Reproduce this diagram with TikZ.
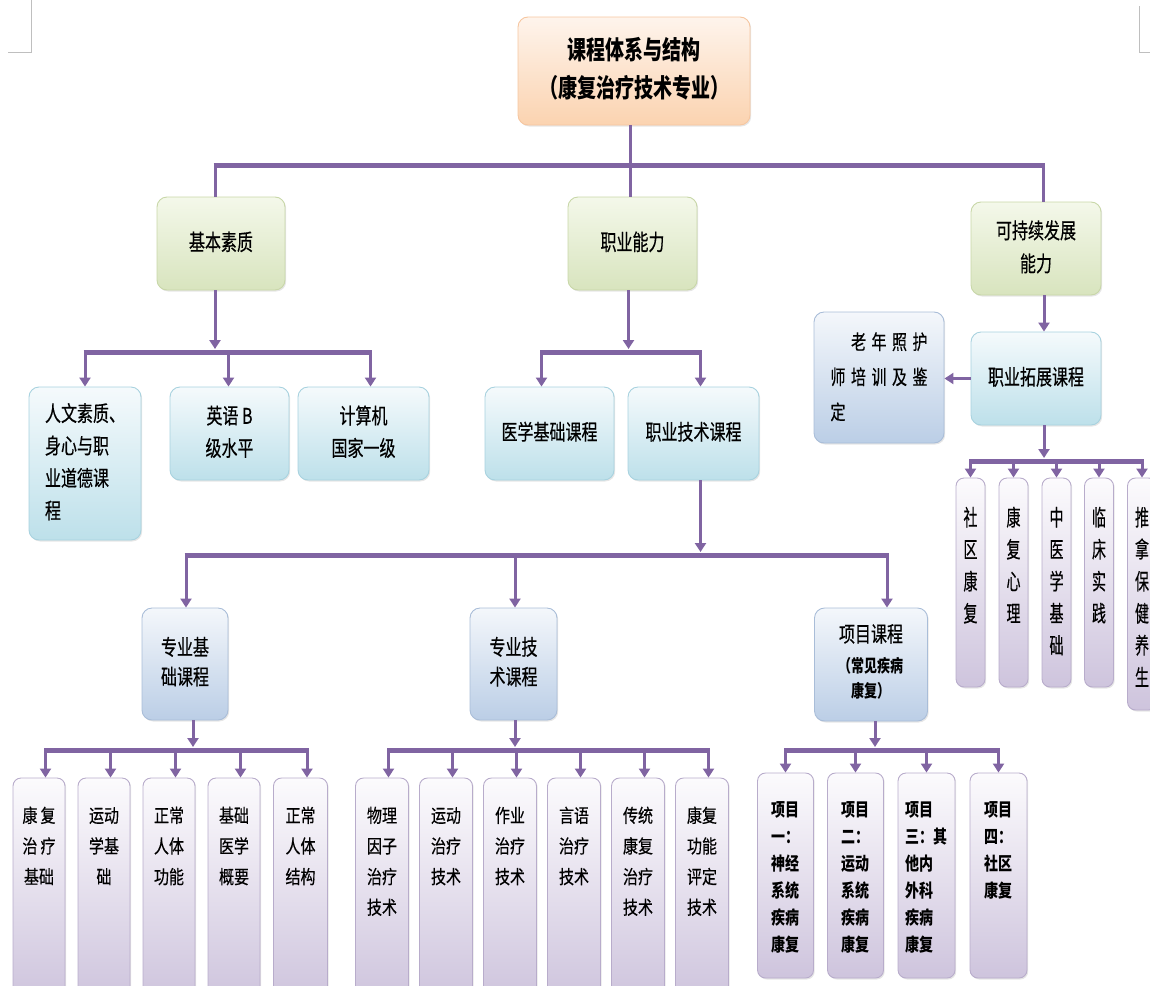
\documentclass[tikz,border=0pt]{standalone}
\usepackage{fontspec}
\usepackage{graphicx}
\setmainfont{Noto Sans CJK SC}[UprightFeatures={FakeBold=0.5}]
\usetikzlibrary{arrows.meta,shadows,calc}
\definecolor{pur}{HTML}{8064A2}
\definecolor{ttlT}{HTML}{FEF4EC}\definecolor{ttlB}{HTML}{FBD3B0}\definecolor{ttlD}{HTML}{F6C6A0}
\definecolor{grnT}{HTML}{F4F8EA}\definecolor{grnB}{HTML}{D8E4BE}\definecolor{grnD}{HTML}{C8D7A8}
\definecolor{cyaT}{HTML}{F5FAFC}\definecolor{cyaB}{HTML}{BDE0EA}\definecolor{cyaD}{HTML}{A8D2DF}
\definecolor{bluT}{HTML}{F4F7FB}\definecolor{bluB}{HTML}{BBCEE6}\definecolor{bluD}{HTML}{A9BDD8}
\definecolor{lavT}{HTML}{FCFBFD}\definecolor{lavB}{HTML}{CEC4DD}\definecolor{lavD}{HTML}{B8ACCB}
\newcommand\mytc[2]{\scalebox{1}[#1]{\begin{tabular}{@{}c@{}}#2\end{tabular}}}
\newcommand\mytl[2]{\scalebox{1}[#1]{\begin{tabular}{@{}l@{}}#2\end{tabular}}}
\newcommand\mygap{\hspace{5.5pt}}
% arrow from a bar (coordinate #3) down to node #1, shifted by #2
\newcommand\darr[3]{\draw[arr] ($(#1.north |- #3)+(#2,0)$) -- ($(#1.north)+(#2,0)$);}
% arrow from node #1 (shifted by #2) down onto bar tip coordinate #3
\newcommand\pout[3]{\draw[arr] ($(#1.south)+(#2,0)$) -- ($(#1.south |- #3)+(#2,0)$);}
% bar at #1 from node #2 (+#3) to node #4 (+#5)
\newcommand\mybar[5]{\draw[barline] ($(#2.north |- #1)+(#3,0)$) -- ($(#4.north |- #1)+(#5,0)$);}
\tikzset{
  conn/.style={draw=pur, line width=3pt},
  arr/.style={draw=pur, line width=3pt, -{Triangle[width=11pt,length=9pt]}},
  barline/.style={draw=pur, line width=5pt, shorten <=-1.5pt, shorten >=-1.5pt},
  bx/.style={rectangle, rounded corners=10pt, line width=0.9pt, inner sep=0pt,
    drop shadow={opacity=0.2, shadow xshift=1.2pt, shadow yshift=-1.5pt}},
  ttl/.style={bx, draw=ttlD, top color=ttlT, bottom color=ttlB, font=\fontsize{19}{28}\selectfont\bfseries},
  grn/.style={bx, draw=grnD, top color=grnT, bottom color=grnB, font=\fontsize{16}{24.5}\selectfont},
  cya/.style={bx, draw=cyaD, top color=cyaT, bottom color=cyaB, font=\fontsize{16}{24}\selectfont},
  blu/.style={bx, draw=bluD, top color=bluT, bottom color=bluB, font=\fontsize{16}{22}\selectfont},
  lav/.style={bx, rounded corners=8pt, draw=lavD, top color=lavT, bottom color=lavB},
  sz/.style 2 args={minimum width=#1pt, minimum height=#2pt},
  lbot/.style={anchor=north, inner sep=0pt, yshift=-23.3pt, font=\fontsize{15}{24.5}\selectfont},
  lprj/.style={anchor=north, inner sep=0pt, yshift=-24.6pt, font=\fontsize{14}{20.8}\selectfont\bfseries},
  lver/.style={anchor=north, inner sep=0pt, yshift=-25.6pt, font=\fontsize{14}{20}\selectfont},
  corner/.style={draw=black!25, line width=1pt},
}
\begin{document}
\begin{tikzpicture}[x=1pt,y=-1pt]
\useasboundingbox (0,0) rectangle (1150,985);
\clip (0,0) rectangle (1150,985);
% page corner marks
\draw[corner] (31,0) -- (31,52) -- (8,52);
\draw[corner] (1139,6) -- (1139,52) -- (1150,52);

% title
\node[ttl, sz={232}{108}] (t) at (634,71) {\mytc{1.35}{课程体系与结构\\（康复治疗技术专业）}};

% level 2
\node[grn, sz={128}{93}] (jb) at (221,243.5) {\mytc{1.4}{基本素质}};
\node[grn, sz={129}{93}] (zy) at (632.5,243.5) {\mytc{1.4}{职业能力}};
\node[grn, sz={130}{93}] (kc) at (1036,248.5) {\mytc{1.35}{可持续发展\\能力}};
\coordinate (b0) at (0,165);
\draw[conn] ($(t.south)+(-4,0)$) -- ($(zy.north)+(-2.5,0)$);
\mybar{b0}{jb}{-6}{kc}{7}
\draw[conn] ($(jb.north |- b0)+(-6,0)$) -- ($(jb.north)+(-6,0)$);
\draw[conn] ($(kc.north |- b0)+(7,0)$) -- ($(kc.north)+(7,0)$);

% group 1
\coordinate (b1) at (0,352); \coordinate (a1) at (0,349);
\node[cya, sz={112}{153}] (rw) at (85,463.5) {\mytl{1.35}{人文素质、\\身心与职\\业道德课\\程}};
\node[cya, sz={119}{93}] (yy) at (229.5,433.5) {\mytc{1.35}{英语 B\\级水平}};
\node[cya, sz={131}{93}] (js) at (363.5,433.5) {\mytc{1.35}{计算机\\国家一级}};
\pout{jb}{-6}{a1}
\mybar{b1}{rw}{0}{js}{7}
\darr{rw}{0}{b1} \darr{yy}{-1}{b1} \darr{js}{7}{b1}

% group 2
\node[cya, sz={129}{93}] (yx) at (549.5,433.5) {\mytc{1.35}{医学基础课程}};
\node[cya, sz={131}{93}] (zj) at (693.5,433.5) {\mytc{1.35}{职业技术课程}};
\pout{zy}{-4}{a1}
\mybar{b1}{yx}{-8}{zj}{7}
\darr{yx}{-8}{b1} \darr{zj}{7}{b1}

% group 3
\coordinate (b3) at (0,555); \coordinate (a3) at (0,552);
\node[blu, sz={86}{112}] (zjc) at (185,664) {\mytc{1.35}{专业基\\础课程}};
\node[blu, sz={87}{112}] (zjs) at (513.5,664) {\mytc{1.35}{专业技\\术课程}};
\node[blu, sz={113}{113}, font=\fontsize{16}{18.5}\selectfont] (xm) at (871,664.5)
  {\mytc{1.35}{项目课程\\[4pt]{\bfseries\fontsize{13}{18.5}\selectfont（常见疾病}\\{\bfseries\fontsize{13}{18.5}\selectfont 康复）}}};
\pout{zj}{7}{a3}
\mybar{b3}{zjc}{1}{xm}{16}
\darr{zjc}{1}{b3} \darr{zjs}{1.5}{b3} \darr{xm}{16}{b3}

% group 4
\coordinate (b4) at (0,750); \coordinate (a4) at (0,747);
\node[lav, sz={52}{222}, label={[lbot]north:{\mytc{1.25}{康\hspace{3pt}复\\治\hspace{3pt}疗\\基础}}}] (p1) at (39,889) {};
\node[lav, sz={52}{222}, label={[lbot]north:{\mytc{1.25}{运动\\学基\\础}}}] (p2) at (104,889) {};
\node[lav, sz={52}{222}, label={[lbot]north:{\mytc{1.25}{正常\\人体\\功能}}}] (p3) at (169,889) {};
\node[lav, sz={52}{222}, label={[lbot]north:{\mytc{1.25}{基础\\医学\\概要}}}] (p4) at (234,889) {};
\node[lav, sz={54}{222}, label={[lbot]north:{\mytc{1.25}{正常\\人体\\结构}}}] (p5) at (300.5,889) {};
\pout{zjc}{8}{a4}
\mybar{b4}{p1}{6.5}{p5}{6.5}
\darr{p1}{6.5}{b4} \darr{p2}{6.5}{b4} \darr{p3}{6.5}{b4} \darr{p4}{6.5}{b4} \darr{p5}{6.5}{b4}

% group 5
\node[lav, sz={53}{222}, label={[lbot]north:{\mytc{1.25}{物理\\因子\\治疗\\技术}}}] (q1) at (382,889) {};
\node[lav, sz={53}{222}, label={[lbot]north:{\mytc{1.25}{运动\\治疗\\技术}}}] (q2) at (446,889) {};
\node[lav, sz={53}{222}, label={[lbot]north:{\mytc{1.25}{作业\\治疗\\技术}}}] (q3) at (510,889) {};
\node[lav, sz={53}{222}, label={[lbot]north:{\mytc{1.25}{言语\\治疗\\技术}}}] (q4) at (574,889) {};
\node[lav, sz={53}{222}, label={[lbot]north:{\mytc{1.25}{传统\\康复\\治疗\\技术}}}] (q5) at (638,889) {};
\node[lav, sz={53}{222}, label={[lbot]north:{\mytc{1.25}{康复\\功能\\评定\\技术}}}] (q6) at (702,889) {};
\pout{zjs}{1.5}{a4}
\mybar{b4}{q1}{6.5}{q6}{6.5}
\darr{q1}{6.5}{b4} \darr{q2}{6.5}{b4} \darr{q3}{6.5}{b4} \darr{q4}{6.5}{b4} \darr{q5}{6.5}{b4} \darr{q6}{6.5}{b4}

% group 6
\node[lav, sz={56}{205}, label={[lprj]north:{\mytl{1.3}{项目\\一：\\神经\\系统\\疾病\\康复}}}] (r1) at (785.5,875.5) {};
\node[lav, sz={56}{205}, label={[lprj]north:{\mytl{1.3}{项目\\二：\\运动\\系统\\疾病\\康复}}}] (r2) at (855.5,875.5) {};
\node[lav, sz={57}{205}, label={[lprj]north:{\mytl{1.3}{项目\\三：其\\他内\\外科\\疾病\\康复}}}] (r3) at (926.5,875.5) {};
\node[lav, sz={57}{205}, label={[lprj]north:{\mytl{1.3}{项目\\四：\\社区\\康复}}}] (r4) at (998.5,875.5) {};
\pout{xm}{4}{a4}
\mybar{b4}{r1}{0}{r4}{0}
\darr{r1}{0}{b4} \darr{r2}{0}{b4} \darr{r3}{0}{b4} \darr{r4}{0}{b4}

% group 7
\node[cya, sz={130}{93}] (tz) at (1036,378.5) {\mytc{1.35}{职业拓展课程}};
\draw[arr] ($(kc.south)+(8,0)$) -- ($(tz.north)+(8,0)$);
\node[blu, sz={130}{131}, font=\fontsize{15}{26}\selectfont] (lz) at (879,377.5)
  {\mytl{1.35}{\hspace{20.5pt}老\mygap 年\mygap 照\mygap 护\\师\mygap 培\mygap 训\mygap 及\mygap 鉴\\定}};
\draw[arr] (tz.west) -- (tz.west -| lz.east);

% group 8
\coordinate (b8) at (0,461); \coordinate (a8) at (0,458);
\node[lav, sz={29}{209}, label={[lver]north:{\mytc{1.6}{社\\区\\康\\复}}}] (e1) at (970.5,582.5) {};
\node[lav, sz={29}{209}, label={[lver]north:{\mytc{1.6}{康\\复\\心\\理}}}] (e2) at (1013.5,582.5) {};
\node[lav, sz={29}{209}, label={[lver]north:{\mytc{1.6}{中\\医\\学\\基\\础}}}] (e3) at (1056.5,582.5) {};
\node[lav, sz={29}{209}, label={[lver]north:{\mytc{1.6}{临\\床\\实\\践}}}] (e4) at (1099,582.5) {};
\node[lav, sz={29}{232}, label={[lver]north:{\mytc{1.6}{推\\拿\\保\\健\\养\\生}}}] (e5) at (1142,594) {};
\pout{tz}{8}{a8}
\mybar{b8}{e1}{0}{e5}{0}
\darr{e1}{0}{b8} \darr{e2}{0}{b8} \darr{e3}{0}{b8} \darr{e4}{0}{b8} \darr{e5}{0}{b8}
\end{tikzpicture}
\end{document}
